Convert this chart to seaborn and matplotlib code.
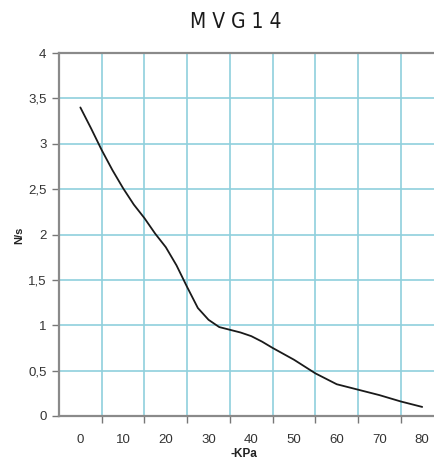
import matplotlib
matplotlib.use("Agg")
import matplotlib.pyplot as plt
import seaborn as sns
import pandas as pd

# curve
kpa = [0, 2.5, 5, 7.5, 10, 12.5, 15, 17.5, 20, 22.5, 25, 27.5, 30, 32.5,
       35, 37.5, 40, 42.5, 45, 50, 55, 60, 65, 70, 75, 80]
flow = [3.40, 3.17, 2.93, 2.71, 2.51, 2.33, 2.18, 2.01, 1.86, 1.66, 1.42,
        1.19, 1.06, 0.98, 0.95, 0.92, 0.88, 0.82, 0.75, 0.62, 0.47, 0.35,
        0.29, 0.23, 0.16, 0.10]

x_labels = [0, 10, 20, 30, 40, 50, 60, 70, 80]
x_grid = [5, 15, 25, 35, 45, 55, 65, 75]
y_ticks = [0, 0.5, 1, 1.5, 2, 2.5, 3, 3.5, 4]
y_labels = ["0", "0,5", "1", "1,5", "2", "2,5", "3", "3,5", "4"]

df = pd.DataFrame({"kpa": kpa, "flow": flow})

sns.set_style("white")
plt.rcParams["font.family"] = ["Liberation Sans", "DejaVu Sans"]

fig = plt.figure(figsize=(4.35, 4.61), dpi=100)
ax = fig.add_axes([59 / 435, 1 - 416 / 461, 1 - 59 / 435, (416 - 53) / 461])

sns.lineplot(x="kpa", y="flow", data=df, color="#1a1a1a", linewidth=1.3, ax=ax)

ax.set_xlim(-5, 83)
ax.set_ylim(0, 4)

# grid lines sit between the labelled categories
ax.set_xticks(x_grid)
ax.set_xticklabels([])
ax.set_xticks(x_labels, minor=True)
ax.set_xticklabels([str(v) for v in x_labels], minor=True)
ax.set_yticks(y_ticks)
ax.set_yticklabels(y_labels)

ax.grid(True, which="major", color="#8fd0dd", linewidth=1.2)
ax.set_axisbelow(True)

ax.tick_params(axis="x", which="major", length=5, width=1, color="#777777",
               direction="out", bottom=True)
ax.tick_params(axis="x", which="minor", length=0, pad=13, labelsize=9.5,
               labelcolor="#333333", bottom=True)
ax.tick_params(axis="y", which="major", length=5, width=1, color="#777777",
               direction="out", left=True, pad=4, labelsize=9.5,
               labelcolor="#333333")

for side in ["left", "bottom", "top"]:
    ax.spines[side].set_color("#8a8a8a")
    ax.spines[side].set_linewidth(1.6)
ax.spines["right"].set_visible(False)

ax.set_xlabel("")
ax.set_ylabel("")
fig.text(244 / 435, 1 - 454 / 461, "-KPa", ha="center", va="center",
         fontsize=8.5, fontweight="bold", color="#222222")
fig.text(19 / 435, 1 - 235 / 461, "N/s", ha="center", va="center",
         rotation=90, fontsize=8, fontweight="bold", color="#222222")
fig.text(236 / 435, 1 - 22 / 461, "M V G 1 4", ha="center", va="center",
         fontsize=15, color="#1a1a1a", family="DejaVu Sans",
         fontstretch="condensed")

plt.savefig("out.png", dpi=100)
